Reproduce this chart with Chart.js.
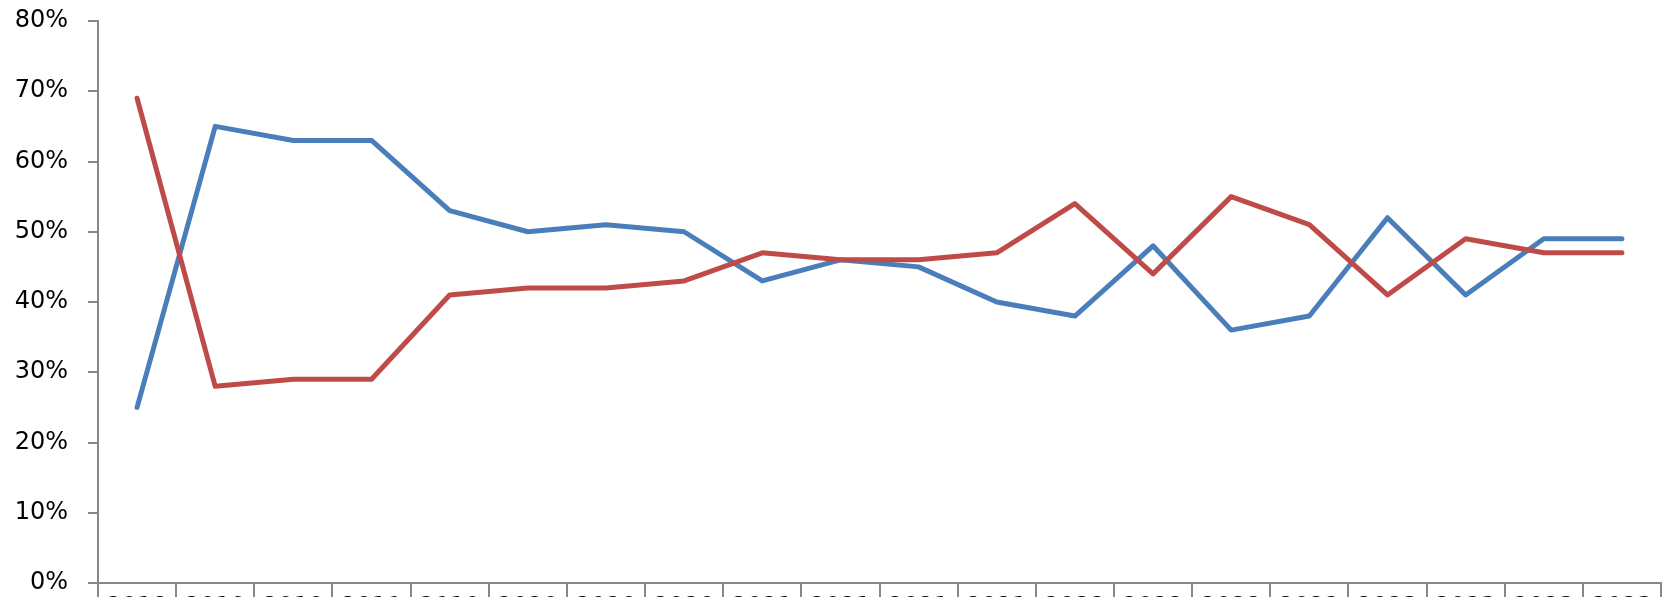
<!DOCTYPE html>
<html>
<head>
<meta charset="utf-8">
<script src="https://cdn.jsdelivr.net/npm/chart.js@4.4.0/dist/chart.umd.min.js"></script>
<style>
  html, body { margin: 0; padding: 0; background: #fff; }
  #wrap { width: 1672px; height: 597px; }
</style>
</head>
<body>
<div id="wrap"><canvas id="lineChart" width="1672" height="597"></canvas></div>
<script>
// category labels (bottom axis is clipped in the source, only the tops show)
const periods = ['2018', '2019', '2019', '2019', '2019', '2020', '2020', '2020',
    '2021', '2021', '2021', '2021', '2022', '2022', '2022', '2022',
    '2023', '2023', '2023', '2023'];

// values in %
const blueSeries = [25, 65, 63, 63, 53, 50, 51, 50, 43, 46, 45, 40, 38, 48, 36, 38, 52, 41, 49, 49];
const redSeries = [69, 28, 29, 29, 41, 42, 42, 43, 47, 46, 46, 47, 54, 44, 55, 51, 41, 49, 47, 47];

const yTicks = [0, 10, 20, 30, 40, 50, 60, 70, 80];

const axisGrey = '#878787';
const labelFont = { family: 'DejaVu Sans', size: 24 };

const ctx = document.getElementById('lineChart');
new Chart(ctx, {
    type: 'line',
    data: {
        labels: periods,
        datasets: [{
            label: 'Series 1',
            data: blueSeries,
            borderColor: '#4A7EBB',
            borderWidth: 5,
            pointRadius: 0,
            tension: 0,
            borderCapStyle: 'round',
            borderJoinStyle: 'round',
            order: 2
        }, {
            label: 'Series 2',
            data: redSeries,
            borderColor: '#BE4B48',
            borderWidth: 5,
            pointRadius: 0,
            tension: 0,
            borderCapStyle: 'round',
            borderJoinStyle: 'round',
            order: 1
        }]
    },
    options: {
        responsive: false,
        animation: false,
        layout: { padding: { top: 21, right: 11, bottom: 0, left: 0 } },
        plugins: {
            legend: { display: false },
            tooltip: { enabled: false }
        },
        scales: {
            x: {
                offset: true,
                grid: {
                    offset: true,
                    drawOnChartArea: false,
                    drawTicks: true,
                    tickLength: 20,
                    color: axisGrey,
                    lineWidth: 2
                },
                border: { color: axisGrey, width: 2 },
                ticks: {
                    color: '#000',
                    font: labelFont,
                    padding: -10,
                    maxRotation: 0,
                    autoSkip: false
                },
                afterFit: (scale) => {
                    scale.height = 14;
                    scale.paddingLeft = 0;
                    scale.paddingRight = 0;
                }
            },
            y: {
                min: 0,
                max: 80,
                afterBuildTicks: (scale) => {
                    scale.ticks = yTicks.map(v => ({ value: v }));
                },
                grid: {
                    drawOnChartArea: false,
                    drawTicks: true,
                    tickLength: 10,
                    color: axisGrey,
                    lineWidth: 2
                },
                border: { color: axisGrey, width: 2 },
                ticks: {
                    color: '#000',
                    font: labelFont,
                    padding: 20,
                    callback: (v) => v + '%'
                },
                afterFit: (scale) => {
                    scale.width = 98;
                    scale.paddingTop = 0;
                    scale.paddingBottom = 0;
                }
            }
        }
    }
});
</script>
</body>
</html>
